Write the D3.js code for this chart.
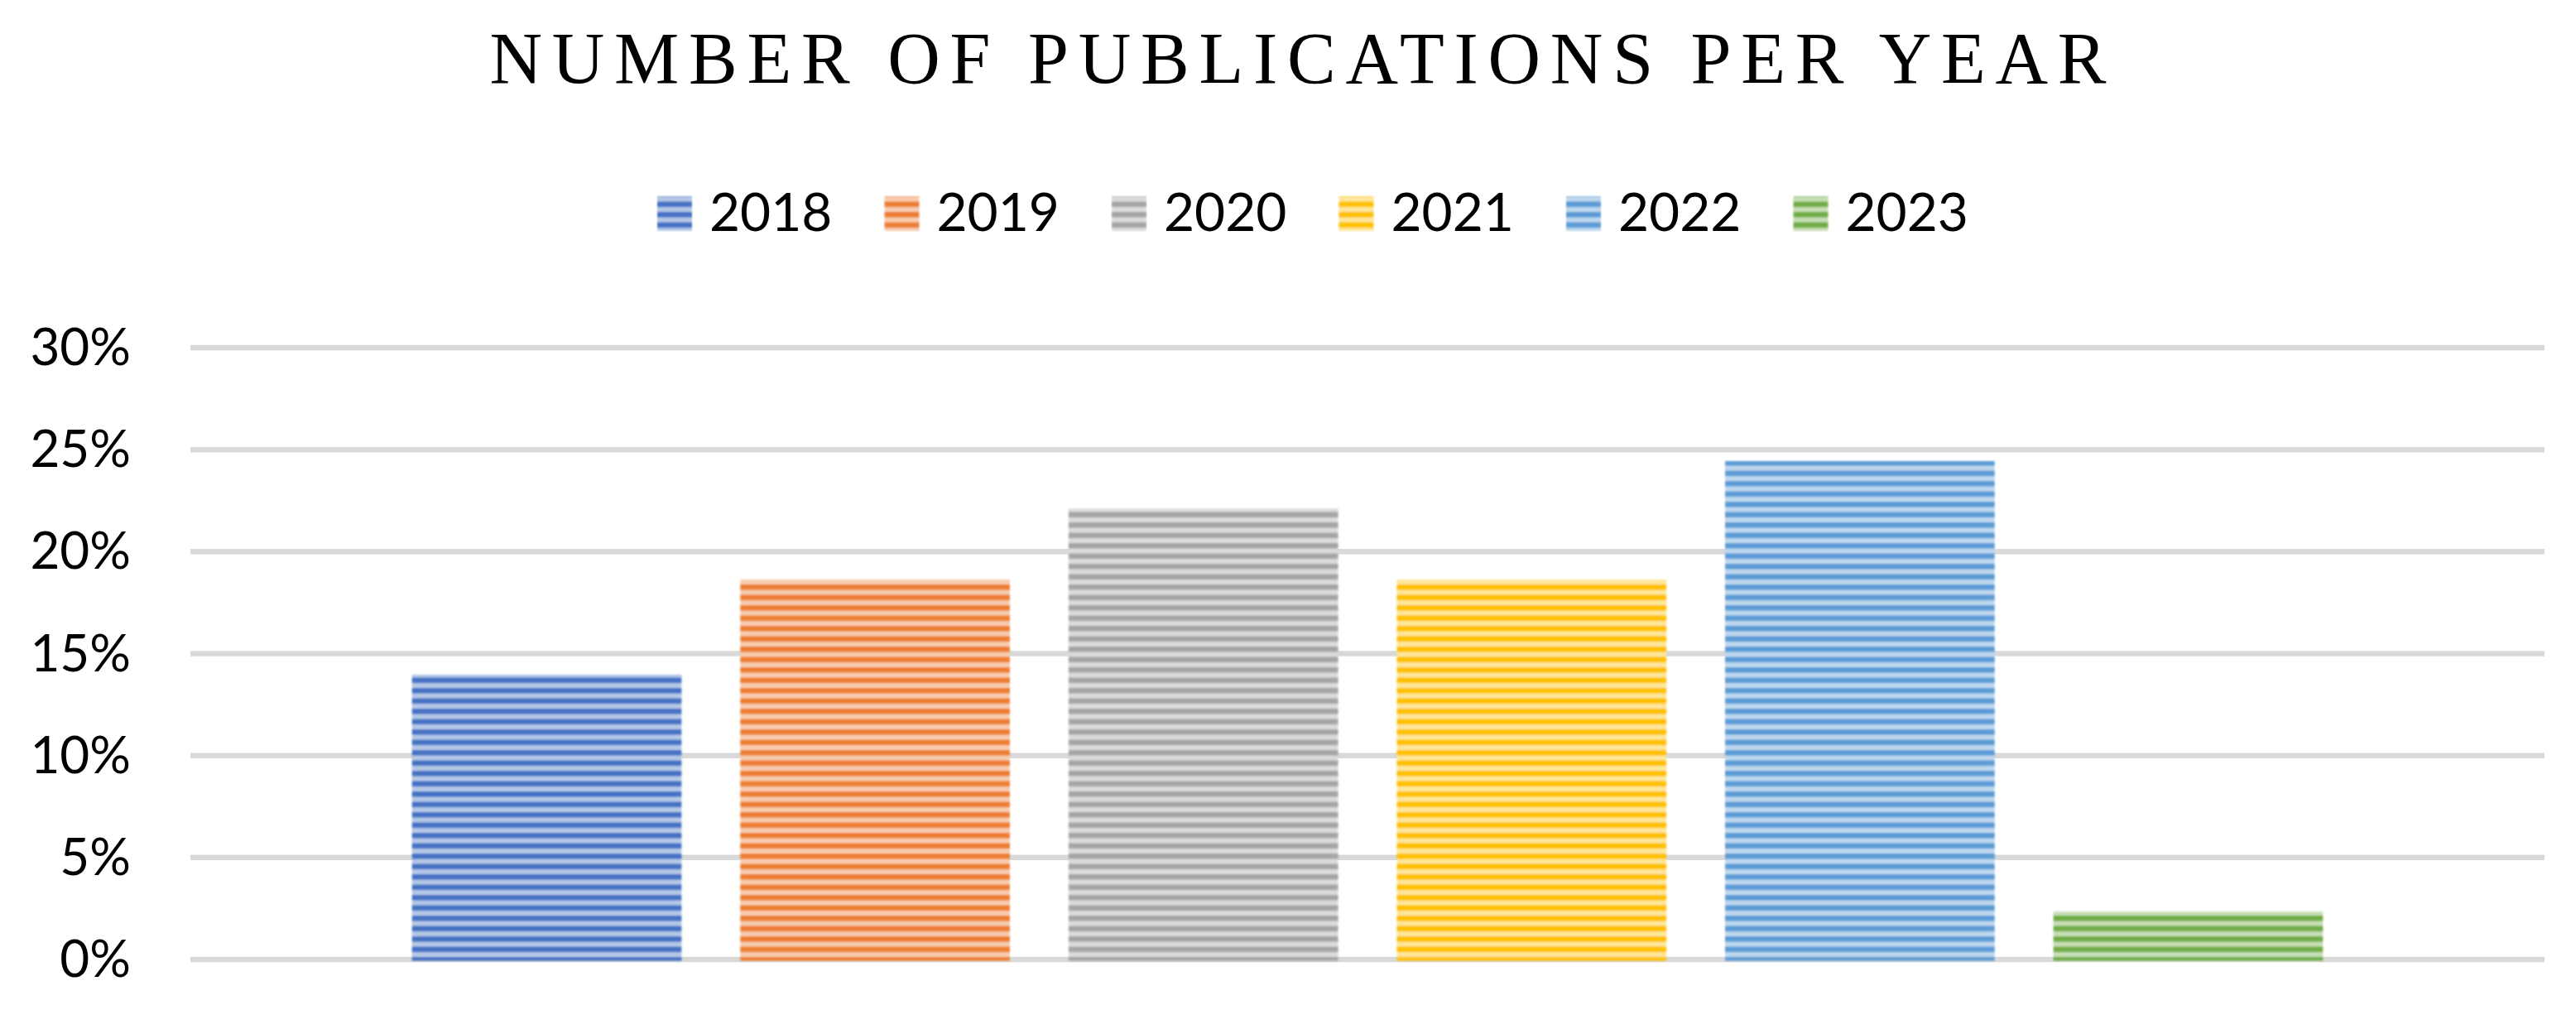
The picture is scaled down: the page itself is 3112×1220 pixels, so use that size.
<!DOCTYPE html>
<html>
<head>
<meta charset="utf-8">
<script src="https://cdn.jsdelivr.net/npm/d3@7"></script>
<style>
  html, body { margin: 0; padding: 0; background: #ffffff; }
  svg { display: block; }
</style>
</head>
<body>
<div id="chart"></div>
<script>
// ---- data ----
const title = "NUMBER OF PUBLICATIONS PER YEAR";
const years = ["2018", "2019", "2020", "2021", "2022", "2023"];
const shares = [0.1395, 0.1860, 0.2209, 0.1860, 0.2442, 0.0233];
const colors = ["#4472c4", "#ed7d31", "#a5a5a5", "#ffc000", "#5b9bd5", "#70ad47"];
const yTicks = [0, 0.05, 0.10, 0.15, 0.20, 0.25, 0.30];

// ---- layout ----
const W = 3112, H = 1220;
const plot = { left: 230, right: 3074, top: 419.5, bottom: 1158.5 };
const labelFont = "Lato, Carlito, Calibri, 'Open Sans', sans-serif";

const svg = d3.select("#chart").append("svg")
  .attr("width", W).attr("height", H)
  .attr("viewBox", `0 0 ${W} ${H}`);

svg.append("rect").attr("width", W).attr("height", H).attr("fill", "#ffffff");

const defs = svg.append("defs");

// stripe pattern per series
const period = 12.5, dark = 6.5;
colors.forEach((c, i) => {
  const light = d3.interpolateRgb(c, "#ffffff")(0.6);
  const p = defs.append("pattern")
    .attr("id", "pat" + i)
    .attr("patternUnits", "userSpaceOnUse")
    .attr("x", 0).attr("y", 6)
    .attr("width", 40).attr("height", period);
  p.append("rect").attr("width", 40).attr("height", period).attr("fill", light);
  p.append("rect").attr("y", 0).attr("width", 40).attr("height", dark).attr("fill", c);
});

// soft-edge filter
const f = defs.append("filter").attr("id", "soft")
  .attr("x", "-2%").attr("y", "-2%").attr("width", "104%").attr("height", "104%");
f.append("feGaussianBlur").attr("stdDeviation", 1.1);

// ---- scales ----
const y = d3.scaleLinear().domain([0, 0.30]).range([plot.bottom, plot.top]);
const x = d3.scaleBand().domain(years)
  .range([plot.left, plot.right])
  .paddingInner(71 / 397)
  .paddingOuter(268 / 397);

// ---- title ----
svg.append("text")
  .attr("x", 1568).attr("y", 100)
  .attr("text-anchor", "middle")
  .attr("font-family", "'Liberation Serif', 'Times New Roman', serif")
  .attr("font-size", 88)
  .attr("fill", "#000000")
  .attr("textLength", 1953)
  .attr("lengthAdjust", "spacing")
  .text(title);

// ---- legend ----
const legendX = d3.scaleBand().domain(years).range([794, 794 + 6 * 274.5]);
const lg = svg.append("g");
const item = lg.selectAll("g").data(years).join("g")
  .attr("transform", d => `translate(${legendX(d)},0)`);
item.append("rect")
  .attr("x", 0).attr("y", 237).attr("width", 42).attr("height", 42)
  .attr("fill", (d, i) => `url(#pat${i})`)
  .attr("filter", "url(#soft)");
item.append("text")
  .attr("x", 63).attr("y", 279)
  .attr("font-family", labelFont)
  .attr("font-size", 64)
  .attr("fill", "#000000")
  .text(d => d);

// ---- gridlines & y labels ----
const yAxis = d3.axisLeft(y).tickValues(yTicks)
  .tickFormat(d3.format(".0%"))
  .tickSize(-(plot.right - plot.left))
  .tickPadding(72);
const ga = svg.append("g")
  .attr("transform", `translate(${plot.left},0)`)
  .call(yAxis);
ga.select(".domain").remove();
ga.selectAll(".tick line")
  .attr("stroke", "#d9d9d9")
  .attr("stroke-width", 6.5);
ga.selectAll(".tick text")
  .attr("font-family", labelFont)
  .attr("font-size", 62)
  .attr("fill", "#000000")
  .attr("dy", "0.34em");

// ---- bars ----
svg.append("g").selectAll("rect")
  .data(years.map((yr, i) => ({ yr, v: shares[i], i })))
  .join("rect")
  .attr("x", d => x(d.yr))
  .attr("width", x.bandwidth())
  .attr("y", d => y(d.v))
  .attr("height", d => y(0) - y(d.v) + 2)
  .attr("fill", d => `url(#pat${d.i})`)
  .attr("filter", "url(#soft)");
</script>
</body>
</html>
